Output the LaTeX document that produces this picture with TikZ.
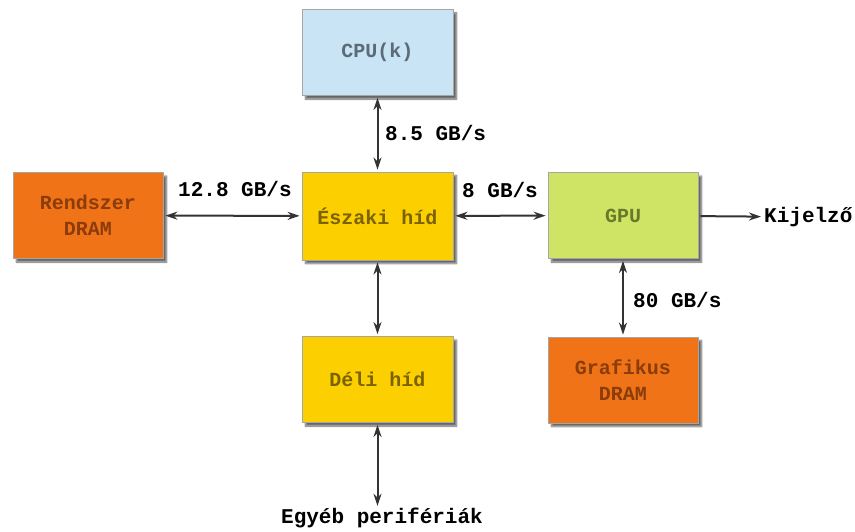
\documentclass[tikz,border=0pt]{standalone}
\usepackage{fontspec}
\setmonofont{Liberation Mono}
\usetikzlibrary{arrows.meta,shadows.blur}
\definecolor{cpufill}{HTML}{C9E4F5}
\definecolor{cputext}{HTML}{5C6B78}
\definecolor{bridgefill}{HTML}{FCCF00}
\definecolor{bridgetext}{HTML}{7A6200}
\definecolor{dramfill}{HTML}{F07318}
\definecolor{dramtext}{HTML}{8A3C0A}
\definecolor{gpufill}{HTML}{CFE464}
\definecolor{gputext}{HTML}{687A2A}
\definecolor{edgecol}{HTML}{333333}
\tikzset{
  unit/.style={draw=gray!70, line width=0.8pt, minimum width=151pt, minimum height=86pt,
    align=center, inner sep=0pt, font=\ttfamily\bfseries\fontsize{20}{26}\selectfont,
    blur shadow={shadow xshift=3.5pt, shadow yshift=-3.5pt, shadow blur steps=6, shadow opacity=60}},
  tip/.style={Stealth[length=12pt,width=8pt]},
  bus/.style={draw=edgecol, line width=2pt, {Stealth[length=12pt,width=8pt]}-{Stealth[length=12pt,width=8pt]},
    shorten >=2pt, shorten <=2pt},
  oneway/.style={draw=edgecol, line width=2pt, -{Stealth[length=12pt,width=8pt]}, shorten <=2pt, shorten >=3pt},
  rate/.style={font=\ttfamily\bfseries\fontsize{21}{24}\selectfont, text=black, inner sep=0pt},
}
\begin{document}
\begin{tikzpicture}[x=1pt, y=-1pt]
\useasboundingbox (0,0) rectangle (855,532);
% units
\node[unit, fill=cpufill, text=cputext] (cpu) at (377.5,52.5) {CPU(k)};
\node[unit, fill=bridgefill, text=bridgetext, minimum height=88pt] (north) at (377.5,216) {Északi híd};
\node[unit, fill=dramfill, text=dramtext, minimum width=150pt] (sysdram) at (88,215.5) {Rendszer\\DRAM};
\node[unit, fill=gpufill, text=gputext, minimum width=150pt] (gpu) at (623,215.5) {GPU};
\node[unit, fill=bridgefill, text=bridgetext] (south) at (377.5,379.5) {Déli híd};
\node[unit, fill=dramfill, text=dramtext, minimum width=150pt] (gfxdram) at (623,380) {Grafikus\\DRAM};
% free-standing texts
\node[rate, anchor=west] (display) at (764,217) {Kijelző};
\node[rate] (periph) at (382,518) {Egyéb perifériák};
% buses
\draw[bus] (cpu) -- (north);
\draw[bus] (sysdram) -- (north);
\draw[bus] (north) -- (gpu);
\draw[bus] (gpu) -- (gfxdram);
\draw[bus] (north) -- (south);
\draw[bus] (south.south) -- (south.south |- periph.north);
\draw[oneway] (gpu) -- (display);
% bandwidth labels
\node[rate, anchor=west] (r1) at (385,133) {8.5 GB/s};
\node[rate, anchor=west] (r2) at (178,189) {12.8 GB/s};
\node[rate, anchor=west] (r3) at (462,190) {8 GB/s};
\node[rate, anchor=west] (r4) at (633,300) {80 GB/s};
\end{tikzpicture}
\end{document}
